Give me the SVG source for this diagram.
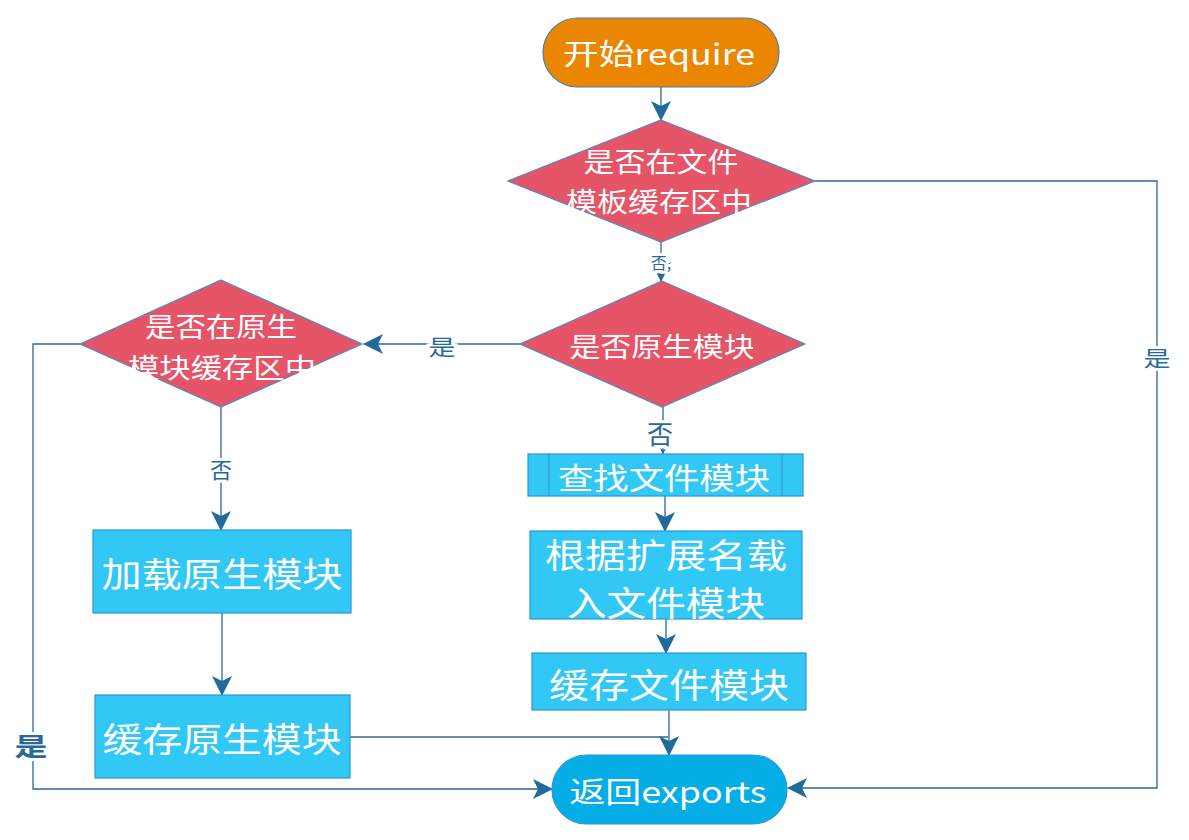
<svg xmlns="http://www.w3.org/2000/svg" width="1189" height="840" viewBox="0 0 1189 840">
<defs>
<style>
.t{font-family:"Noto Sans CJK SC","Liberation Sans",sans-serif;fill:#fff;text-anchor:middle;dominant-baseline:central}
.dia{fill:#E55467;stroke:#5A86C0;stroke-width:1.2}
.box{fill:#32C8F5;stroke:#2E95D2;stroke-width:1.2}
.c{fill:none;stroke:#2A6898;stroke-width:1.3}
.lb{font-family:"Noto Sans CJK SC","Liberation Sans",sans-serif;fill:#2A6898;text-anchor:middle;dominant-baseline:central;stroke:#fff;stroke-width:6;paint-order:stroke}
</style>
<marker id="ah" markerUnits="userSpaceOnUse" markerWidth="20" markerHeight="20" viewBox="0 0 20 20" refX="19" refY="10" orient="auto">
<path d="M0,0 L20,10 L0,20 L5,10 z" fill="#226A9C"/>
</marker>
<marker id="ahs" markerUnits="userSpaceOnUse" markerWidth="6" markerHeight="6" viewBox="0 0 20 20" refX="19" refY="10" orient="auto">
<path d="M0,0 L20,10 L0,20 L5,10 z" fill="#226A9C"/>
</marker>
</defs>
<rect width="1189" height="840" fill="#fff"/>
<g id="connectors">
<path class="c" d="M661,87 V120" marker-end="url(#ah)"/>
<path class="c" d="M661,242 V281" marker-end="url(#ah)"/>
<path class="c" d="M520,344 H364" marker-end="url(#ah)"/>
<path class="c" d="M80,344 H33 V789 H552" marker-end="url(#ah)"/>
<path class="c" d="M221,407 V530" marker-end="url(#ah)"/>
<path class="c" d="M222,613 V695" marker-end="url(#ah)"/>
<path class="c" d="M350,737 H668"/>
<path class="c" d="M663,407 V454" marker-end="url(#ahs)"/>
<path class="c" d="M665,496 V531" marker-end="url(#ah)"/>
<path class="c" d="M666,619 V653" marker-end="url(#ah)"/>
<path class="c" d="M669,710 V755" marker-end="url(#ah)"/>
<path class="c" d="M815,181 H1157 V788 H788" marker-end="url(#ah)"/>
<text class="lb" x="661" y="262" font-size="16">否,</text>
<text class="lb" x="442" y="345" font-size="22" textLength="27" lengthAdjust="spacingAndGlyphs">是</text>
<text class="lb" x="31" y="745" font-size="25" font-weight="bold" textLength="33" lengthAdjust="spacingAndGlyphs">是</text>
<text class="lb" x="221" y="468" font-size="22">否</text>
<text class="lb" x="660" y="432" font-size="26">否</text>
<text class="lb" x="1157" y="357" font-size="21" textLength="27" lengthAdjust="spacingAndGlyphs">是</text>
</g>
<g id="start">
<rect x="543" y="18" width="236" height="69" rx="34.5" fill="#EB8600" stroke="#4F7FA8" stroke-width="1.2"/>
<text class="t" x="659" y="52" font-size="29" textLength="192" lengthAdjust="spacingAndGlyphs">开始require</text>
</g>
<g id="d1">
<polygon class="dia" points="661,120 815,181 661,242 508,181"/>
<text class="t" x="661" y="160" font-size="27" textLength="155" lengthAdjust="spacingAndGlyphs">是否在文件</text>
<text class="t" x="659" y="200" font-size="27" textLength="186" lengthAdjust="spacingAndGlyphs">模板缓存区中</text>
</g>
<g id="d2">
<polygon class="dia" points="662,281 805,344 662,407 520,344"/>
<text class="t" x="662" y="345" font-size="27" textLength="185" lengthAdjust="spacingAndGlyphs">是否原生模块</text>
</g>
<g id="d3">
<polygon class="dia" points="221,280 362,344 221,407 80,344"/>
<text class="t" x="221" y="325" font-size="27" textLength="152" lengthAdjust="spacingAndGlyphs">是否在原生</text>
<text class="t" x="222" y="366" font-size="27" textLength="188" lengthAdjust="spacingAndGlyphs">模块缓存区中</text>
</g>
<g id="loadNative">
<rect class="box" x="93" y="530" width="258" height="83"/>
<text class="t" x="222" y="572" font-size="34" textLength="241" lengthAdjust="spacingAndGlyphs">加载原生模块</text>
</g>
<g id="cacheNative">
<rect class="box" x="95" y="695" width="255" height="83"/>
<text class="t" x="222" y="737" font-size="34" textLength="239" lengthAdjust="spacingAndGlyphs">缓存原生模块</text>
</g>
<g id="findFile">
<rect class="box" x="528" y="454" width="275" height="42"/>
<line x1="549" y1="454" x2="549" y2="496" stroke="#2E95D2" stroke-width="1"/>
<line x1="782" y1="454" x2="782" y2="496" stroke="#2E95D2" stroke-width="1"/>
<text class="t" x="664" y="476" font-size="30" textLength="212" lengthAdjust="spacingAndGlyphs">查找文件模块</text>
</g>
<g id="loadFile">
<rect class="box" x="530" y="531" width="272" height="88"/>
<text class="t" x="666" y="553" font-size="34" textLength="242" lengthAdjust="spacingAndGlyphs">根据扩展名载</text>
<text class="t" x="666" y="601" font-size="34" textLength="198" lengthAdjust="spacingAndGlyphs">入文件模块</text>
</g>
<g id="cacheFile">
<rect class="box" x="532" y="653" width="274" height="57"/>
<text class="t" x="669" y="683" font-size="34" textLength="240" lengthAdjust="spacingAndGlyphs">缓存文件模块</text>
</g>
<g id="end">
<rect x="552" y="755" width="235" height="69" rx="34.5" fill="#06AEE8" stroke="#2E95D2" stroke-width="1.2"/>
<text class="t" x="668" y="790" font-size="29" textLength="197" lengthAdjust="spacingAndGlyphs">返回exports</text>
</g>
</svg>
